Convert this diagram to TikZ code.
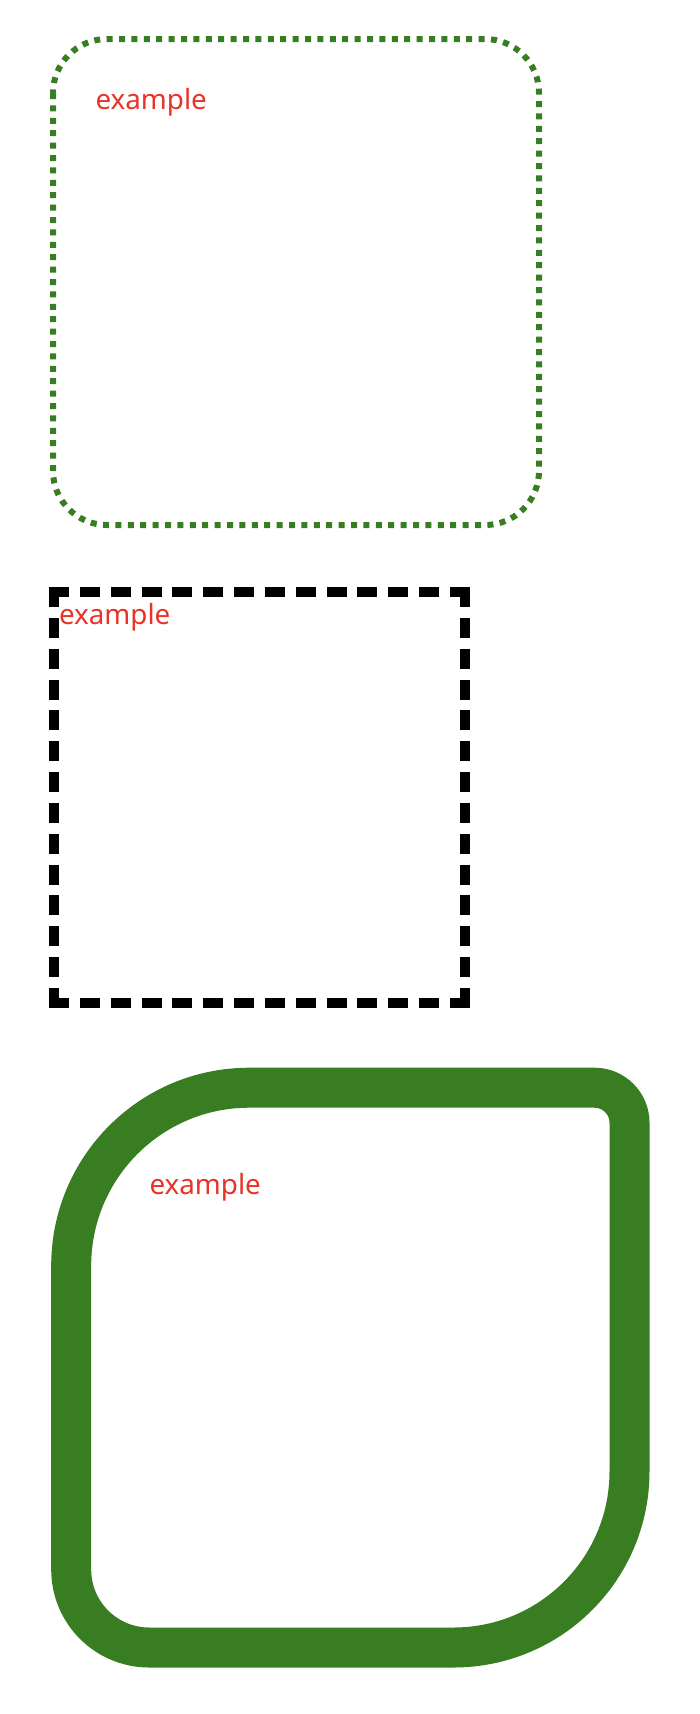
\documentclass[tikz,border=0pt]{standalone}
\usepackage{fontspec}
\newfontfamily\lblfont{Noto Sans}
\definecolor{boxgreen}{RGB}{56,125,34}
\definecolor{lblred}{RGB}{233,50,40}
\tikzset{
  lbl/.style={anchor=base west, inner sep=0pt, outer sep=0pt, text=lblred,
    font=\lblfont\fontsize{27.8}{33}\selectfont},
  dotbox/.style={draw=boxgreen, line width=6pt, dash pattern=on 6pt off 6.4pt, rounded corners=54pt},
  dashbox/.style={draw=black, line width=9.5pt, miter limit=10,
    dash pattern=on 20pt off 10.846pt on 20pt off 10.846pt on 20pt off 10.846pt on 20pt off 10.846pt
      on 20pt off 10.846pt on 20pt off 10.846pt on 20pt off 10.846pt on 20pt off 10.846pt
      on 20pt off 10.846pt on 20pt off 10.846pt on 20pt off 10.846pt on 20pt off 10.846pt
      on 30pt off 10.846pt},
  thickbox/.style={draw=boxgreen, line width=40pt}
}
\begin{document}
\begin{tikzpicture}[x=1pt,y=1pt]
\useasboundingbox (0,0) rectangle (700,-1714);
% dotted rounded box
\draw[dotbox] (53,-39) rectangle (539,-525);
\node[lbl] (t1) at (95.5,-109) {example};
% dashed box
\coordinate (s) at (79.846,-592);
\coordinate (c1) at (465,-592);
\coordinate (c2) at (465,-1003);
\coordinate (c3) at (54,-1003);
\coordinate (c4) at (54,-592);
\draw[dashbox] (s) -- (c1) -- (c2) -- (c3) -- (c4) -- cycle;
\node[lbl] (t2) at (59,-624) {example};
% thick green box
\draw[thickbox] (71.2,-1265.7) arc[start angle=180, end angle=90, radius=178]
  -- (594.5,-1087.7) arc[start angle=90, end angle=0, radius=35]
  -- (629.5,-1471.5) arc[start angle=0, end angle=-90, radius=176]
  -- (149.2,-1647.5) arc[start angle=270, end angle=180, radius=78]
  -- cycle;
\node[lbl] (t3) at (149.5,-1194) {example};
\end{tikzpicture}
\end{document}
